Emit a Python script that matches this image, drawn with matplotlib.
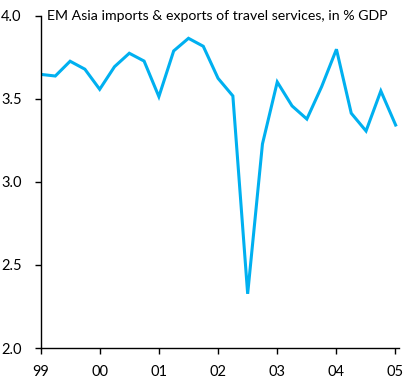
import matplotlib
matplotlib.use("Agg")
import matplotlib.pyplot as plt

title = "EM Asia imports & exports of travel services, in % GDP"
year_labels = ["99", "00", "01", "02", "03", "04", "05"]
values = [3.647, 3.637, 3.726, 3.678, 3.557, 3.693, 3.774, 3.727, 3.513,
          3.788, 3.864, 3.816, 3.623, 3.517, 2.326, 3.228, 3.601, 3.457,
          3.378, 3.573, 3.798, 3.413, 3.306, 3.547, 3.342]
y_ticks = [2.0, 2.5, 3.0, 3.5, 4.0]

plt.rcParams['font.family'] = ['Lato', 'DejaVu Sans']

fig = plt.figure(figsize=(4.05, 3.79), dpi=100)
ax = fig.add_axes([40.5/405, 1-348/379, (399-40.5)/405, (348-15.7)/379])

x = [i * 1.003 for i in range(len(values))]
ax.plot(x, values, color='#00B0F0', linewidth=2.2, solid_joinstyle='miter')

ax.set_xlim(0, 24.3)
ax.set_ylim(2.0, 4.0)
ax.set_xticks([4*i for i in range(len(year_labels))])
ax.set_xticklabels(year_labels)
ax.set_yticks(y_ticks)
ax.set_yticklabels([f"{v:.1f}" for v in y_ticks])

for s in ['top', 'right']:
    ax.spines[s].set_visible(False)
for s in ['left', 'bottom']:
    ax.spines[s].set_linewidth(1.0)
    ax.spines[s].set_color('black')
ax.tick_params(axis='y', direction='out', length=4.5, width=1, pad=9, labelsize=10.5)
ax.tick_params(axis='x', direction='out', length=4, width=1, pad=8, labelsize=10.5)

ax.text(47/405, 1-16/379, title, transform=fig.transFigure, ha='left', va='center',
        fontsize=10.2, color='black')

fig.savefig("out.png", dpi=100)
